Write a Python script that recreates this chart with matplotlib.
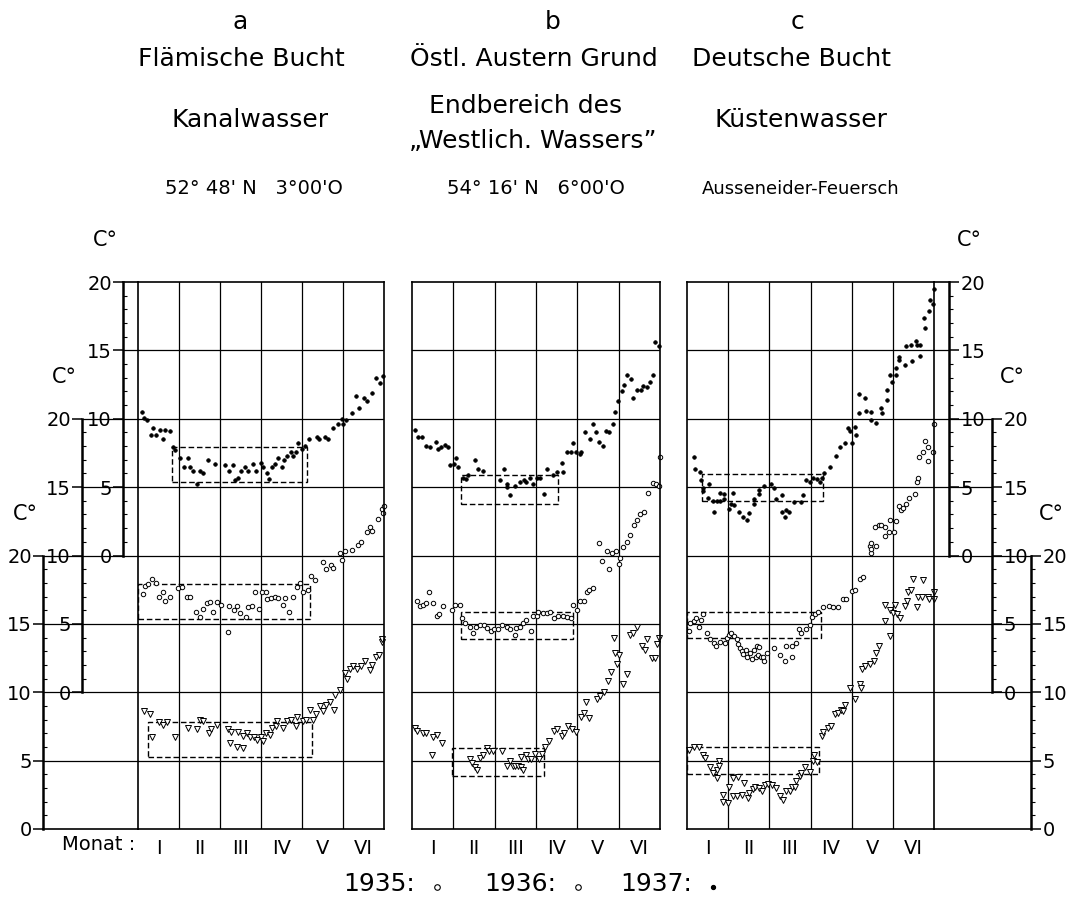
"""
Wassertemperaturen Jan-Jun 1935-1937 an drei Stationen der Nordsee
(a Flaemische Bucht, b Oestl. Austern Grund, c Deutsche Bucht)
"""
import numpy as np
import matplotlib
matplotlib.use("Agg")
import matplotlib.pyplot as plt
from matplotlib.patches import Rectangle
from matplotlib.lines import Line2D

plt.rcParams['font.family'] = ['DejaVu Sans']

W, H = 1069, 899
ROMAN = ['I', 'II', 'III', 'IV', 'V', 'VI']

# (month since 1 Jan, temperature C)
A35 = [(0.09, 10.5), (0.15, 10.05), (0.21, 9.9), (0.31, 8.8), (0.37, 9.3), (0.44, 8.8),
       (0.54, 9.2), (0.6, 8.5), (0.66, 9.2), (0.78, 9.1), (0.86, 7.9), (0.9, 7.7),
       (1.02, 7.1), (1.12, 6.5), (1.23, 7.1), (1.28, 6.5), (1.35, 6.2), (1.45, 5.2),
       (1.51, 6.2), (1.59, 6.0), (1.7, 7.0), (1.88, 6.7), (2.12, 6.6), (2.23, 6.2),
       (2.31, 6.6), (2.37, 5.5), (2.45, 5.7), (2.51, 6.2), (2.61, 6.5), (2.69, 6.2),
       (2.81, 6.7), (2.89, 6.2), (2.99, 6.8), (3.06, 6.5), (3.14, 6.0), (3.2, 5.6),
       (3.26, 6.5), (3.34, 6.7), (3.42, 7.1), (3.5, 6.5), (3.56, 7.0), (3.64, 7.3),
       (3.72, 7.6), (3.79, 7.3), (3.85, 7.6), (3.91, 8.2), (3.99, 7.8), (4.07, 8.0),
       (4.18, 8.5), (4.36, 8.7), (4.42, 8.5), (4.56, 8.7), (4.63, 8.5), (4.76, 9.3),
       (4.89, 9.6), (4.97, 10.0), (5.0, 9.6), (5.07, 9.9), (5.21, 10.4), (5.32, 11.7),
       (5.4, 10.8), (5.51, 11.5), (5.58, 11.3), (5.7, 11.9), (5.8, 13.0), (5.9, 12.6),
       (5.98, 13.1)]
A36 = [(0.13, 7.15), (0.17, 7.8), (0.25, 7.9), (0.33, 8.3), (0.44, 8.0), (0.52, 7.0),
       (0.62, 7.3), (0.67, 6.7), (0.78, 7.0), (0.98, 7.6), (1.07, 7.7), (1.19, 7.0),
       (1.28, 7.0), (1.41, 5.9), (1.51, 5.5), (1.59, 6.1), (1.69, 6.5), (1.76, 6.6),
       (1.82, 5.9), (1.92, 6.6), (2.02, 6.4), (2.2, 4.4), (2.23, 6.3), (2.33, 6.0),
       (2.41, 6.3), (2.49, 5.8), (2.63, 5.5), (2.69, 6.2), (2.79, 6.3), (2.85, 7.3),
       (2.95, 6.1), (3.02, 7.3), (3.11, 7.3), (3.14, 6.8), (3.24, 6.9), (3.34, 7.0),
       (3.42, 6.9), (3.54, 6.4), (3.59, 6.9), (3.69, 5.9), (3.77, 7.0), (3.87, 7.7),
       (3.95, 8.0), (4.03, 7.3), (4.15, 7.5), (4.21, 8.5), (4.31, 8.2), (4.5, 9.5),
       (4.59, 9.0), (4.7, 9.3), (4.76, 9.1), (4.93, 10.15), (4.97, 9.7), (5.05, 10.3),
       (5.21, 10.4), (5.37, 10.8), (5.45, 11.0), (5.58, 11.7), (5.67, 12.1), (5.7, 11.8),
       (5.86, 12.7), (5.94, 13.4), (5.98, 13.1), (6.0, 13.6)]
A37 = [(0.15, 8.6), (0.29, 8.4), (0.33, 6.7), (0.52, 7.8), (0.62, 7.6), (0.7, 7.8),
       (0.9, 6.7), (1.21, 7.4), (1.43, 7.3), (1.51, 8.0), (1.59, 7.9), (1.74, 7.0),
       (1.79, 7.3), (1.92, 7.6), (2.19, 7.3), (2.28, 7.1), (2.24, 6.3), (2.41, 6.0),
       (2.57, 5.9), (2.43, 7.1), (2.55, 6.8), (2.65, 7.0), (2.73, 6.7), (2.82, 6.7),
       (2.9, 6.5), (2.99, 6.7), (3.06, 6.4), (3.11, 7.0), (3.22, 6.9), (3.26, 7.4),
       (3.37, 7.5), (3.38, 7.9), (3.53, 7.4), (3.63, 7.9), (3.73, 8.0), (3.85, 7.5),
       (3.87, 8.2), (4.02, 7.9), (4.1, 8.0), (4.2, 8.7), (4.28, 8.0), (4.34, 8.4),
       (4.44, 9.0), (4.52, 8.6), (4.59, 9.1), (4.68, 9.3), (4.78, 8.7), (4.8, 9.8),
       (4.93, 10.2), (5.05, 11.4), (5.09, 11.0), (5.17, 11.7), (5.25, 11.9), (5.35, 11.7),
       (5.43, 11.9), (5.54, 12.3), (5.65, 11.6), (5.7, 12.0), (5.8, 12.6), (5.89, 12.7),
       (5.94, 13.7), (5.96, 13.9)]

B35 = [(0.07, 9.2), (0.15, 8.7), (0.23, 8.7), (0.34, 8.0), (0.44, 7.9), (0.57, 8.3),
       (0.64, 7.8), (0.69, 7.9), (0.8, 8.1), (0.86, 7.9), (0.92, 6.6), (1.02, 6.7),
       (1.06, 7.1), (1.12, 6.5), (1.23, 5.7), (1.31, 5.6), (1.36, 5.9), (1.52, 7.0),
       (1.6, 6.3), (1.71, 6.2), (2.13, 5.5), (2.23, 6.3), (2.31, 5.2), (2.31, 5.0),
       (2.37, 4.4), (2.49, 5.1), (2.61, 5.4), (2.71, 5.5), (2.77, 5.4), (2.85, 5.7),
       (2.92, 5.2), (3.02, 5.7), (3.1, 5.7), (3.2, 4.5), (3.26, 6.3), (3.4, 5.9),
       (3.5, 6.1), (3.62, 6.8), (3.66, 6.1), (3.74, 7.6), (3.85, 7.6), (3.9, 8.2),
       (3.97, 7.6), (4.06, 7.4), (4.1, 7.6), (4.19, 9.0), (4.31, 8.5), (4.37, 9.6),
       (4.44, 9.0), (4.53, 8.3), (4.63, 8.0), (4.69, 9.1), (4.77, 9.0), (4.87, 9.6),
       (4.91, 10.5), (4.99, 11.3), (5.07, 12.0), (5.13, 12.5), (5.19, 13.2), (5.29, 12.9),
       (5.35, 11.5), (5.45, 12.1), (5.53, 12.1), (5.6, 12.4), (5.68, 12.3), (5.76, 12.7),
       (5.82, 13.2), (5.88, 15.6), (5.98, 15.3)]
B36 = [(0.11, 6.66), (0.19, 6.3), (0.26, 6.4), (0.34, 6.5), (0.42, 7.3), (0.52, 6.5),
       (0.6, 5.6), (0.66, 5.7), (0.76, 6.3), (0.96, 6.0), (1.04, 6.4), (1.16, 6.4),
       (1.2, 5.4), (1.28, 5.1), (1.4, 4.8), (1.48, 4.3), (1.56, 4.8), (1.65, 4.9),
       (1.73, 4.9), (1.82, 4.7), (1.9, 4.5), (1.98, 4.6), (2.09, 4.6), (2.17, 4.9),
       (2.29, 4.8), (2.37, 4.6), (2.49, 4.2), (2.52, 4.7), (2.61, 4.8), (2.68, 5.1),
       (2.76, 5.3), (2.89, 4.5), (2.92, 5.6), (3.02, 5.6), (3.06, 5.9), (3.16, 5.8),
       (3.26, 5.8), (3.34, 5.9), (3.44, 5.4), (3.54, 5.6), (3.65, 5.6), (3.74, 5.5),
       (3.84, 5.4), (3.9, 6.4), (4.0, 6.0), (4.06, 6.7), (4.15, 6.7), (4.23, 7.3),
       (4.29, 7.5), (4.37, 7.6), (4.53, 10.9), (4.59, 9.6), (4.71, 10.3), (4.77, 9.0),
       (4.83, 10.2), (4.94, 10.3), (5.0, 9.4), (5.03, 9.8), (5.1, 10.6), (5.21, 11.0),
       (5.27, 11.5), (5.38, 12.2), (5.45, 12.6), (5.52, 13.0), (5.61, 13.2), (5.72, 14.6),
       (5.82, 15.3), (5.9, 15.2), (5.98, 15.1), (6.0, 17.2)]
B37 = [(0.07, 7.4), (0.11, 7.2), (0.27, 7.0), (0.34, 7.0), (0.52, 6.7), (0.61, 6.9),
       (0.48, 5.4), (0.72, 6.3), (1.4, 5.1), (1.44, 4.8), (1.52, 4.5), (1.58, 4.3),
       (1.65, 5.2), (1.71, 5.4), (1.81, 5.9), (1.87, 5.7), (1.95, 5.7), (2.17, 5.7),
       (2.29, 4.6), (2.37, 5.0), (2.44, 4.6), (2.49, 4.6), (2.57, 4.6), (2.63, 4.5),
       (2.69, 4.3), (2.63, 5.3), (2.76, 5.4), (2.81, 5.1), (2.87, 5.1), (2.98, 5.5),
       (3.08, 5.1), (3.14, 5.5), (3.22, 6.0), (3.32, 6.4), (3.44, 7.2), (3.52, 7.3),
       (3.62, 6.8), (3.68, 7.0), (3.78, 7.5), (3.86, 7.3), (3.96, 7.1), (4.09, 8.2),
       (4.15, 8.5), (4.29, 8.1), (4.21, 9.3), (4.47, 9.5), (4.55, 9.7), (4.65, 10.0),
       (4.75, 10.8), (4.81, 11.5), (4.95, 12.1), (5.02, 12.7), (4.91, 12.9), (5.11, 10.6),
       (5.19, 11.3), (4.89, 14.0), (5.27, 14.2), (5.34, 14.3), (5.44, 14.8), (5.56, 13.4),
       (5.64, 13.1), (5.69, 13.9), (5.8, 12.5), (5.88, 12.5), (5.92, 13.5), (5.98, 14.0)]

C35 = [(0.17, 7.2), (0.19, 6.3), (0.32, 6.1), (0.33, 5.5), (0.4, 4.9), (0.4, 4.7),
       (0.53, 5.2), (0.52, 4.2), (0.62, 4.0), (0.66, 3.2), (0.72, 4.0), (0.8, 4.0),
       (0.9, 4.1), (0.8, 4.6), (0.91, 4.5), (1.03, 3.4), (1.08, 3.8), (1.14, 3.7),
       (1.12, 4.6), (1.27, 3.2), (1.35, 2.8), (1.46, 2.6), (1.5, 3.1), (1.63, 3.8),
       (1.63, 4.1), (1.76, 4.5), (1.76, 4.8), (1.87, 5.1), (2.03, 5.2), (2.11, 4.9),
       (2.16, 4.1), (2.31, 4.4), (2.3, 3.2), (2.38, 2.8), (2.4, 3.3), (2.48, 3.2),
       (2.6, 3.9), (2.78, 3.9), (2.81, 4.4), (2.9, 5.5), (2.99, 5.4), (3.05, 5.7),
       (3.15, 5.6), (3.23, 5.4), (3.27, 5.7), (3.33, 6.0), (3.47, 6.5), (3.61, 7.3),
       (3.71, 7.9), (3.83, 8.2), (3.9, 9.3), (3.96, 9.1), (4.09, 9.4), (4.1, 8.8),
       (4.02, 8.2), (4.18, 11.8), (4.18, 10.4), (4.32, 11.5), (4.34, 10.6), (4.46, 10.5),
       (4.46, 9.9), (4.59, 9.7), (4.72, 10.8), (4.74, 10.4), (4.85, 11.4), (4.85, 12.1),
       (4.93, 13.2), (4.97, 12.7), (5.07, 13.2), (5.07, 13.7), (5.15, 14.3), (5.15, 14.5),
       (5.29, 13.9), (5.33, 15.3), (5.45, 15.4), (5.47, 14.2), (5.56, 15.7), (5.59, 15.4),
       (5.67, 15.4), (5.67, 14.6), (5.75, 17.4), (5.78, 16.6), (5.88, 17.9), (5.9, 18.7),
       (5.98, 18.4), (6.0, 19.5)]
C36 = [(0.06, 4.5), (0.08, 5.1), (0.17, 5.2), (0.22, 5.4), (0.28, 4.8), (0.33, 5.3),
       (0.4, 5.7), (0.49, 4.3), (0.56, 3.9), (0.66, 3.6), (0.7, 3.4), (0.8, 3.7),
       (0.92, 3.6), (0.96, 4.0), (1.03, 4.2), (1.08, 4.3), (1.14, 4.1), (1.21, 3.9),
       (1.25, 3.5), (1.29, 3.2), (1.33, 3.0), (1.37, 2.8), (1.43, 3.1), (1.46, 2.6),
       (1.53, 2.9), (1.57, 2.4), (1.63, 3.1), (1.68, 2.6), (1.73, 2.7), (1.79, 2.6),
       (1.85, 2.6), (1.71, 3.4), (1.76, 3.3), (1.88, 2.3), (1.95, 2.9), (2.11, 3.2),
       (2.26, 2.7), (2.38, 2.3), (2.4, 3.4), (2.54, 2.6), (2.54, 3.4), (2.65, 3.6),
       (2.73, 4.6), (2.78, 4.3), (2.89, 4.6), (2.99, 4.9), (3.03, 5.5), (3.11, 5.7),
       (3.19, 5.9), (3.31, 6.2), (3.45, 6.3), (3.55, 6.2), (3.67, 6.2), (3.79, 6.8),
       (3.86, 6.8), (4.0, 7.4), (4.08, 7.5), (4.2, 8.3), (4.28, 8.4), (4.44, 10.7),
       (4.46, 10.2), (4.48, 10.5), (4.47, 10.9), (4.59, 10.7), (4.56, 12.1), (4.67, 12.2),
       (4.72, 12.2), (4.81, 12.1), (4.81, 11.4), (4.9, 11.7), (4.93, 12.6), (5.02, 11.7),
       (5.07, 12.5), (5.15, 13.6), (5.19, 13.3), (5.25, 13.5), (5.32, 13.8), (5.4, 14.2),
       (5.53, 14.5), (5.59, 15.4), (5.61, 15.7), (5.64, 17.2), (5.74, 17.6), (5.78, 18.4),
       (5.86, 17.9), (5.86, 16.9), (5.98, 17.6), (6.0, 19.6)]
C37 = [(0.06, 5.8), (0.16, 6.0), (0.3, 6.0), (0.4, 5.4), (0.44, 5.2), (0.56, 4.5),
       (0.62, 4.1), (0.72, 4.3), (0.74, 3.7), (0.78, 5.0), (0.78, 4.6), (0.88, 2.5),
       (0.87, 2.0), (1.0, 1.9), (1.03, 3.1), (1.11, 3.7), (1.11, 2.4), (1.21, 2.4),
       (1.25, 3.8), (1.33, 2.5), (1.38, 3.4), (1.49, 2.3), (1.51, 2.6), (1.61, 2.9),
       (1.65, 3.1), (1.76, 3.0), (1.81, 2.8), (1.89, 3.2), (1.96, 3.3), (2.06, 3.2),
       (2.16, 3.0), (2.27, 2.4), (2.32, 2.1), (2.4, 2.8), (2.5, 2.8), (2.54, 3.1),
       (2.62, 3.1), (2.65, 3.5), (2.74, 3.9), (2.78, 4.1), (2.86, 4.5), (2.99, 4.2),
       (3.07, 5.0), (3.08, 5.4), (3.15, 4.9), (3.27, 6.8), (3.31, 7.1), (3.43, 7.4),
       (3.51, 7.5), (3.59, 8.4), (3.67, 8.5), (3.73, 8.7), (3.79, 8.6), (3.83, 9.1),
       (3.96, 10.3), (4.08, 9.5), (4.2, 10.6), (4.22, 10.3), (4.26, 11.7), (4.32, 11.9),
       (4.44, 12.1), (4.54, 12.3), (4.58, 12.9), (4.67, 13.4), (4.93, 14.1), (4.81, 15.2),
       (4.81, 16.4), (4.93, 16.0), (5.0, 15.8), (5.05, 16.4), (5.09, 15.7), (5.17, 15.4),
       (5.29, 16.3), (5.35, 16.7), (5.37, 17.3), (5.45, 17.5), (5.49, 18.3), (5.59, 16.2),
       (5.61, 17.0), (5.72, 17.0), (5.74, 18.2), (5.86, 17.0), (5.88, 16.8), (6.0, 16.8),
       (6.0, 17.3)]

# winter plateau boxes: (month from, month to, C low, C high)
BOX_A = {1935: (0.83, 4.12, 5.4, 7.9), 1936: (0.0, 4.2, 5.35, 7.9), 1937: (0.25, 4.25, 5.3, 7.8)}
BOX_B = {1935: (1.19, 3.53, 3.8, 5.9), 1936: (1.19, 3.9, 3.9, 5.9), 1937: (0.97, 3.2, 3.9, 5.9)}
BOX_C = {1935: (0.36, 3.3, 4.0, 5.95), 1936: (0.0, 3.25, 4.0, 5.9), 1937: (0.0, 3.2, 4.0, 6.0)}

# each year sits on its own staggered scale
OFFSET = {1935: 20, 1936: 10, 1937: 0}
MARK = {1935: dict(marker='o', ms=2.6, mfc='k', mec='k', mew=0.5),
        1936: dict(marker='o', ms=3.2, mfc='white', mec='k', mew=0.7),
        1937: dict(marker='v', ms=3.8, mfc='white', mec='k', mew=0.7)}

Y0, Y1 = 829, 282        # pixel rows of 0 and 40 on the common grid
UPX = (Y0 - Y1) / 40.0


def ypx(u):
    return Y0 - u * UPX


def scale_axis(xpx, u0, side):
    yb, yt = ypx(u0), ypx(u0 + 20)
    sax = fig.add_axes([xpx / W, 1 - yb / H, 0.0004, (yb - yt) / H])
    sax.set_ylim(0, 20)
    sax.set_xticks([])
    sax.patch.set_visible(False)
    for s in sax.spines.values():
        s.set_visible(False)
    sax.spines[side].set_visible(True)
    sax.spines[side].set_linewidth(1.8)
    sax.yaxis.set_ticks_position(side)
    sax.set_yticks(np.arange(0, 21, 5))
    sax.set_yticks(np.arange(0, 21, 1), minor=True)
    sax.tick_params(axis='y', which='major', direction='out', length=7, width=1.1,
                    pad=1, labelsize=14)
    sax.tick_params(axis='y', which='minor', direction='in' if side == 'left' else 'out',
                    length=3, width=0.8)
    lx = xpx - 18 if side == 'left' else xpx + 20
    fig.text(lx / W, 1 - (yt - 42) / H, 'C°', fontsize=15, ha='center', va='center')


fig = plt.figure(figsize=(W / 100, H / 100), dpi=100)

panels = [
    ('a', 138, 384, [A35, A36, A37], BOX_A, [43, 82, 123]),
    ('b', 412, 660, [B35, B36, B37], BOX_B, None),
    ('c', 687, 934, [C35, C36, C37], BOX_C, [1031, 992, 949]),
]

for name, left, right, series, boxes, scales in panels:
    ax = fig.add_axes([left / W, 1 - Y0 / H, (right - left) / W, (Y0 - Y1) / H])
    ax.set_xlim(0, 6)
    ax.set_ylim(0, 40)
    for s in ax.spines.values():
        s.set_linewidth(1.2)
    ax.set_yticks(np.arange(5, 40, 5))
    ax.set_xticks(np.arange(1, 6), minor=True)
    ax.set_xticks(np.arange(0.5, 6, 1), labels=ROMAN)
    ax.tick_params(axis='both', which='both', length=0)
    ax.tick_params(axis='y', labelleft=False)
    ax.tick_params(axis='x', labelsize=14, pad=7)
    ax.grid(axis='y', which='major', color='k', lw=0.9)
    ax.grid(axis='x', which='minor', color='k', lw=0.9)
    ax.set_axisbelow(True)

    for year, pts in zip((1935, 1936, 1937), series):
        mx, t = zip(*pts)
        ax.plot(mx, np.array(t) + OFFSET[year], ls='none', clip_on=False, **MARK[year])
        x0, x1, lo, hi = boxes[year]
        ax.add_patch(Rectangle((x0, lo + OFFSET[year]), x1 - x0, hi - lo, fill=False,
                               ls=(0, (4, 2)), lw=1.0, ec='k'))

    if scales is not None:
        mpx = (right - left) / 6.0
        ranges = [(scales[0], 0), (scales[1], 10), (scales[2], 20)]
        for u in range(0, 41, 5):
            cover = [p for p, u0 in ranges if u0 <= u <= u0 + 20]
            edge = min(cover) if name == 'a' else max(cover)
            end = 0 if name == 'a' else 6
            ax.plot([(edge - left) / mpx, end], [u, u], color='k', lw=0.9 if 0 < u < 40 else 1.2,
                    clip_on=False)
        side = 'left' if name == 'a' else 'right'
        for p, u0 in ranges:
            scale_axis(p, u0, side)

fig.text(99 / W, 1 - 845 / H, 'Monat :', fontsize=14, ha='center', va='center')

# headings
heads = [
    (240, 22, 'a', 18), (553, 22, 'b', 18), (798, 22, 'c', 18),
    (241, 59, 'Flämische Bucht', 18), (534, 59, 'Östl. Austern Grund', 18),
    (792, 59, 'Deutsche Bucht', 18),
    (250, 120, 'Kanalwasser', 18), (526, 106, 'Endbereich des', 18),
    (533, 141, '„Westlich. Wassers”', 18), (801, 120, 'Küstenwasser', 18),
    (254, 189, "52° 48' N   3°00'O", 14), (536, 189, "54° 16' N   6°00'O", 14),
    (801, 189, 'Ausseneider-Feuersch', 13),
]
for x, y, s, fs in heads:
    fig.text(x / W, 1 - y / H, s, fontsize=fs, ha='center', va='center')

# year key
for x, mx, s, mk in [(343, 437, '1935:', dict(marker='o', ms=4, mfc='white')),
                     (484, 578, '1936:', dict(marker='o', ms=4, mfc='white')),
                     (620, 713, '1937:', dict(marker='o', ms=3, mfc='k'))]:
    fig.text(x / W, 1 - 884 / H, s, fontsize=18, ha='left', va='center')
    fig.add_artist(Line2D([mx / W], [1 - 887 / H], transform=fig.transFigure,
                          ls='none', mec='k', mew=0.8, **mk))

fig.savefig('out.png', dpi=100)
